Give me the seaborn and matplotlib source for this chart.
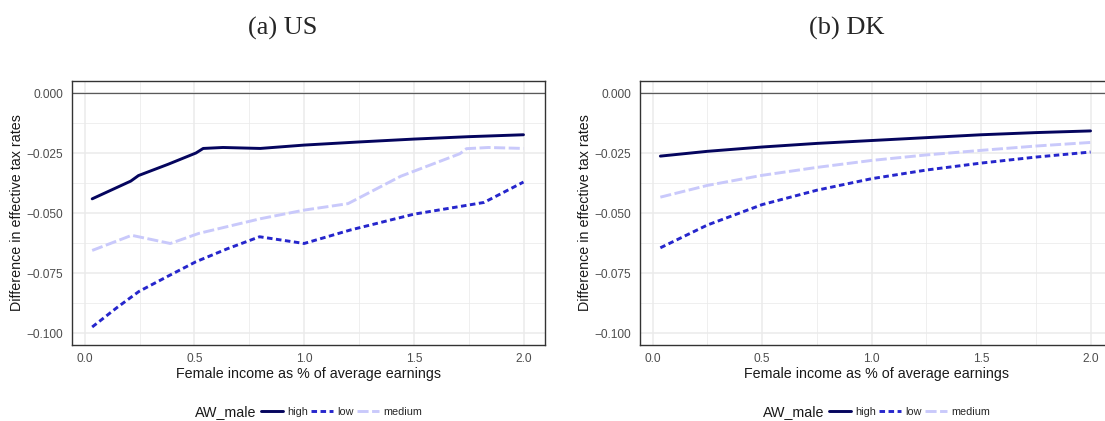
import matplotlib
matplotlib.use("Agg")
import matplotlib.pyplot as plt
from matplotlib.lines import Line2D
from matplotlib.ticker import FixedLocator, FuncFormatter
import numpy as np
import pandas as pd
import seaborn as sns

# ---------------- data ----------------
series_order = ["high", "low", "medium"]

us_high_x = [0.034, 0.21, 0.245, 0.38, 0.507, 0.54, 0.63, 0.80, 1.0, 1.25, 1.5, 1.75, 2.0]
us_high_y = [-0.0441, -0.0367, -0.0344, -0.0297, -0.0250, -0.0231, -0.0227, -0.0231,
             -0.0217, -0.0204, -0.0192, -0.0182, -0.0174]

us_low_x = [0.034, 0.15, 0.247, 0.38, 0.507, 0.65, 0.797, 1.0, 1.21, 1.5, 1.82, 2.0]
us_low_y = [-0.0975, -0.0892, -0.0827, -0.0763, -0.0703, -0.0649, -0.0599, -0.0627,
            -0.0571, -0.0505, -0.0456, -0.0371]

us_med_x = [0.034, 0.214, 0.39, 0.52, 0.80, 1.0, 1.2, 1.44, 1.71, 1.74, 1.84, 2.0]
us_med_y = [-0.0656, -0.0593, -0.0627, -0.0585, -0.0524, -0.0488, -0.0461, -0.0347,
            -0.0253, -0.0232, -0.0227, -0.0231]

dk_x = [0.035, 0.25, 0.5, 0.75, 1.0, 1.25, 1.5, 1.75, 2.0]
dk_high_y = [-0.0263, -0.0243, -0.0225, -0.0210, -0.0198, -0.0186, -0.0174, -0.0165, -0.0158]
dk_low_y = [-0.0645, -0.0550, -0.0465, -0.0405, -0.0357, -0.0321, -0.0292, -0.0267, -0.0246]
dk_med_y = [-0.0434, -0.0385, -0.0343, -0.0310, -0.0281, -0.0258, -0.0239, -0.0221, -0.0206]

panel_titles = ["(a) US", "(b) DK"]
x_ticks = [0.0, 0.5, 1.0, 1.5, 2.0]
y_ticks = [0.000, -0.025, -0.050, -0.075, -0.100]
x_label = "Female income as % of average earnings"
y_label = "Difference in effective tax rates"
legend_title = "AW_male"


def long_frame(parts):
    rows = []
    for name, xs, ys in parts:
        for xv, yv in zip(xs, ys):
            rows.append({"x": xv, "y": yv, "AW_male": name})
    return pd.DataFrame(rows)


df_us = long_frame([("high", us_high_x, us_high_y),
                    ("low", us_low_x, us_low_y),
                    ("medium", us_med_x, us_med_y)])
df_dk = long_frame([("high", dk_x, dk_high_y),
                    ("low", dk_x, dk_low_y),
                    ("medium", dk_x, dk_med_y)])

# ---------------- style ----------------
sns.set_style("white")
plt.rcParams["font.family"] = ["Liberation Sans", "DejaVu Sans"]
plt.rcParams["axes.unicode_minus"] = True

palette = {"high": "#05055e", "low": "#2626cc", "medium": "#c9c9fb"}
dashes = {"high": "", "low": (1.9, 1.2), "medium": (3.8, 1.2)}
LW = 2.1

W, H = 1105, 421
fig = plt.figure(figsize=(W / 100, H / 100), dpi=100)

axes_px = [(72, 545), (640, 1112)]
top_px, bot_px = 81, 345


def fmt_y(v, pos):
    return f"{v:.3f}".replace("-", "\u2212")


def fmt_x(v, pos):
    return f"{v:.1f}"


for i, (df, (l, r)) in enumerate(zip([df_us, df_dk], axes_px)):
    ax = fig.add_axes([l / W, 1 - bot_px / H, (r - l) / W, (bot_px - top_px) / H])
    ax.set_facecolor("white")
    # grid
    for xv in np.arange(0.0, 2.01, 0.25):
        major = abs(xv * 2 - round(xv * 2)) < 1e-9
        ax.axvline(xv, color="#ebebeb", lw=1.1 if major else 0.55, zorder=0)
    for yv in np.arange(-0.1, 0.0001, 0.0125):
        major = abs(yv / 0.025 - round(yv / 0.025)) < 1e-6
        ax.axhline(yv, color="#ebebeb", lw=1.1 if major else 0.55, zorder=0)
    ax.axhline(0.0, color="#5a5a5a", lw=0.9, zorder=1)

    sns.lineplot(data=df, x="x", y="y", hue="AW_male", style="AW_male",
                 hue_order=series_order, style_order=series_order,
                 palette=palette, dashes=dashes, lw=LW, sort=False,
                 estimator=None, legend=False, ax=ax, zorder=3)

    ax.set_xlim(-0.058, 2.098)
    ax.set_ylim(-0.105, 0.005)
    ax.xaxis.set_major_locator(FixedLocator(x_ticks))
    ax.yaxis.set_major_locator(FixedLocator(y_ticks))
    ax.xaxis.set_major_formatter(FuncFormatter(fmt_x))
    ax.yaxis.set_major_formatter(FuncFormatter(fmt_y))
    ax.tick_params(axis="both", length=2.3, width=0.8, color="#333333",
                   labelsize=8.6, labelcolor="#4d4d4d", pad=4)
    ax.tick_params(axis="x", pad=3.2)
    for s in ax.spines.values():
        s.set_color("#333333")
        s.set_linewidth(1.0)
        s.set_visible(True)
    ax.grid(False)

    ax.set_xlabel(x_label, fontsize=10.3, color="#1a1a1a")
    ax.set_ylabel(y_label, fontsize=10.3, color="#1a1a1a")
    ax.xaxis.label.set_va("center")
    ax.yaxis.label.set_va("center")
    ax.xaxis.set_label_coords(0.5, (bot_px - 374) / (bot_px - top_px))
    ax.yaxis.set_label_coords((17 - 72) / (545 - 72), 0.5)

    # legend (horizontal, title to the left)
    shift = 0 if i == 0 else 568
    fig.text((195 + shift) / W, 1 - 416.5 / H, legend_title, fontsize=10.3,
             ha="left", va="baseline", color="#1a1a1a")
    handles = []
    for k in series_order:
        h = Line2D([0], [0], color=palette[k], lw=LW,
                   linestyle="-" if not dashes[k] else "--")
        if dashes[k]:
            h.set_dashes(dashes[k])
        handles.append(h)
    fig.legend(handles, series_order, loc="center left",
               bbox_to_anchor=((261 + shift) / W, 1 - 412 / H),
               ncol=3, frameon=False, fontsize=7.8, handlelength=2.0,
               handletextpad=0.4, columnspacing=0.3, borderpad=0,
               borderaxespad=0)

# panel titles
for txt, cx in zip(panel_titles, [283, 847]):
    fig.text(cx / W, 1 - 28 / H, txt, fontsize=19,
             family=["Liberation Serif", "DejaVu Serif"], ha="center", va="center")

fig.savefig("out.png", dpi=100)
